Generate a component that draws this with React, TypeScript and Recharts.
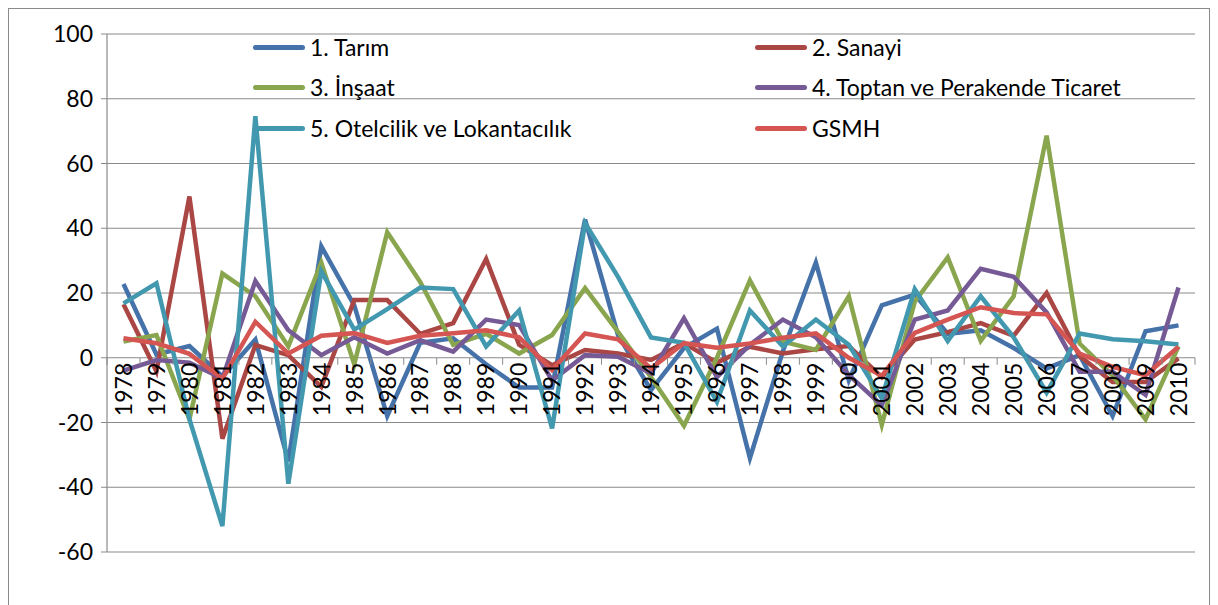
import React from 'react';
import { LineChart, Line, XAxis, YAxis, CartesianGrid, Legend } from 'recharts';

const years = [
  '1978', '1979', '1980', '1981', '1982', '1983', '1984', '1985', '1986', '1987', '1988',
  '1989', '1990', '1991', '1992', '1993', '1994', '1995', '1996', '1997', '1998', '1999',
  '2000', '2001', '2002', '2003', '2004', '2005', '2006', '2007', '2008', '2009', '2010',
];

const tarim = [22.8, 1, 3.6, -5.8, 5.6, -32, 34.4, 16.2, -18, 4.6, 6, -2, -9.2, -9.2, 42.7, 7, -10, 3, 9, -31, 2, 29.4, -7, 16.2, 19.5, 7.4, 8.5, 3, -3.3, 0.8, -18, 8.2, 10];
const sanayi = [16.5, -4.2, 49.8, -25, 3.9, 0.8, -9, 17.8, 17.8, 7.4, 10.7, 30.5, 4, -2.3, 2.4, 1.3, -0.7, 4.5, -1.5, 3.4, 1.3, 2.6, 3.6, -6, 5.6, 7.9, 10.7, 6.8, 20, 0.5, -7.5, -7.5, -0.2];
const insaat = [5, 7, -19, 26, 19, 3.5, 29.4, -2, 38.8, 23.4, 4, 7.4, 1.3, 7, 21.5, 8, -6, -21, 0, 23.9, 5, 2.4, 19, -20.7, 17.3, 31, 5.2, 19, 68.6, 4.4, -5.5, -19, 3.5];
const toptan = [-4, -0.7, -1.5, -6.4, 23.7, 8.5, 0.8, 6.3, 1.3, 5.4, 1.9, 11.8, 10.1, -7, 0.8, 0.3, -4.8, 12.2, -6, 4, 11.8, 6.3, -5.3, -14.7, 11.8, 14.6, 27.5, 25, 14, -4.3, -4.3, -11.5, 21.7];
const otel = [16.8, 23, -19, -52, 74.6, -38.9, 26.7, 8.7, 15, 21.7, 21.2, 3.5, 14.6, -21.8, 41.6, 25, 6.3, 4.6, -13.6, 14.6, 3.5, 11.8, 4, -12.5, 21.2, 5.2, 19, 6.3, -10.8, 7.5, 5.7, 5.1, 4.1];
const gsmh = [6, 4.5, 1.2, -6.5, 11.1, 1.3, 6.8, 7.6, 4.6, 6.8, 7.6, 8.5, 6.3, -3.8, 7.5, 5.7, -3.3, 4.5, 3.1, 4.4, 6.2, 7.5, 0, -5.6, 7.7, 11.8, 15.6, 13.8, 13.4, 1.3, -2.8, -5.4, 3.4];

const yTicks = [-60, -40, -20, 0, 20, 40, 60, 80, 100];

const series = [
  { key: 'tarim', name: '1. Tarım', color: '#4672AA' },
  { key: 'sanayi', name: '2. Sanayi', color: '#AA4643' },
  { key: 'insaat', name: '3. İnşaat', color: '#89A54E' },
  { key: 'toptan', name: '4. Toptan ve Perakende Ticaret', color: '#765A96' },
  { key: 'otel', name: '5. Otelcilik ve Lokantacılık', color: '#4198AF' },
  { key: 'gsmh', name: 'GSMH', color: '#D45552' },
];

const data = years.map((year, i) => ({
  year,
  tarim: tarim[i],
  sanayi: sanayi[i],
  insaat: insaat[i],
  toptan: toptan[i],
  otel: otel[i],
  gsmh: gsmh[i],
}));

const W = 1200;
const H = 600;
const X_AXIS_H = 30;
const margin = { top: 25, right: 14, bottom: 57 - X_AXIS_H, left: 38 };
const Y_AXIS_W = 60;
const Y_MIN = -60;
const Y_MAX = 100;
const PLOT_W = W - margin.left - margin.right - Y_AXIS_W;
const PLOT_H = H - margin.top - margin.bottom - X_AXIS_H;
const BAND = PLOT_W / years.length;
const ZERO_Y = margin.top + (PLOT_H * Y_MAX) / (Y_MAX - Y_MIN);
const FONT = 'Lato, "Open Sans", sans-serif';
const FS = 23;
const GRID = '#8a8a8a';

// category labels sit under the zero line, like the Excel axis crossing at 0
const XTick = (props: any) => {
  const { x, payload, index } = props;
  return (
    <g>
      <line x1={x + BAND / 2} x2={x + BAND / 2} y1={ZERO_Y} y2={ZERO_Y + 7} stroke={GRID} />
      {index === 0 && <line x1={x - BAND / 2} x2={x - BAND / 2} y1={ZERO_Y} y2={ZERO_Y + 7} stroke={GRID} />}
      <text
        transform={`translate(${x},${ZERO_Y + 5}) rotate(-90)`}
        textAnchor="end"
        dy="0.36em"
        fontSize={FS}
        fontFamily={FONT}
        fill="#000"
      >
        {payload.value}
      </text>
    </g>
  );
};

const renderLegend = (props: any) => {
  const { payload } = props;
  return (
    <div style={{ position: 'relative', height: 0, width: W }}>
      {payload.map((entry: any, i: number) => {
        const col = i % 2;
        const row = Math.floor(i / 2);
        const left = col === 0 ? 244 : 746;
        const top = [38, 78, 119][row];
        return (
          <div
            key={entry.value}
            style={{ position: 'absolute', left, top: top - 15, height: 30, display: 'flex', alignItems: 'center', whiteSpace: 'nowrap' }}
          >
            <span style={{ display: 'inline-block', width: 52, height: 5, borderRadius: 3, background: entry.color, marginRight: 5 }} />
            <span style={{ fontSize: FS, fontFamily: FONT, color: '#000' }}>{entry.value}</span>
          </div>
        );
      })}
    </div>
  );
};

export default function App() {
  return (
    <div style={{ width: W, height: H, border: '1px solid #8a8a8a', background: '#fff' }}>
      <LineChart width={W} height={H} data={data} margin={margin}>
        <CartesianGrid vertical={false} stroke={GRID} strokeWidth={1.2} />
        <XAxis
          dataKey="year"
          height={X_AXIS_H}
          axisLine={false}
          tickLine={false}
          interval={0}
          padding={{ left: BAND / 2, right: BAND / 2 }}
          tick={<XTick />}
        />
        <YAxis
          width={Y_AXIS_W}
          domain={[Y_MIN, Y_MAX]}
          ticks={yTicks}
          interval={0}
          allowDataOverflow
          axisLine={{ stroke: GRID, strokeWidth: 1.2 }}
          tickLine={{ stroke: GRID }}
          tickSize={6}
          tickMargin={8}
          tick={{ fontSize: FS, fontFamily: FONT, fill: '#000' }}
        />
        <Legend content={renderLegend} wrapperStyle={{ top: 0, left: 0, width: W, height: 0 }} />
        {series.map((s) => (
          <Line
            key={s.key}
            type="linear"
            dataKey={s.key}
            name={s.name}
            stroke={s.color}
            strokeWidth={4.5}
            dot={false}
            activeDot={false}
            isAnimationActive={false}
          />
        ))}
      </LineChart>
    </div>
  );
}
